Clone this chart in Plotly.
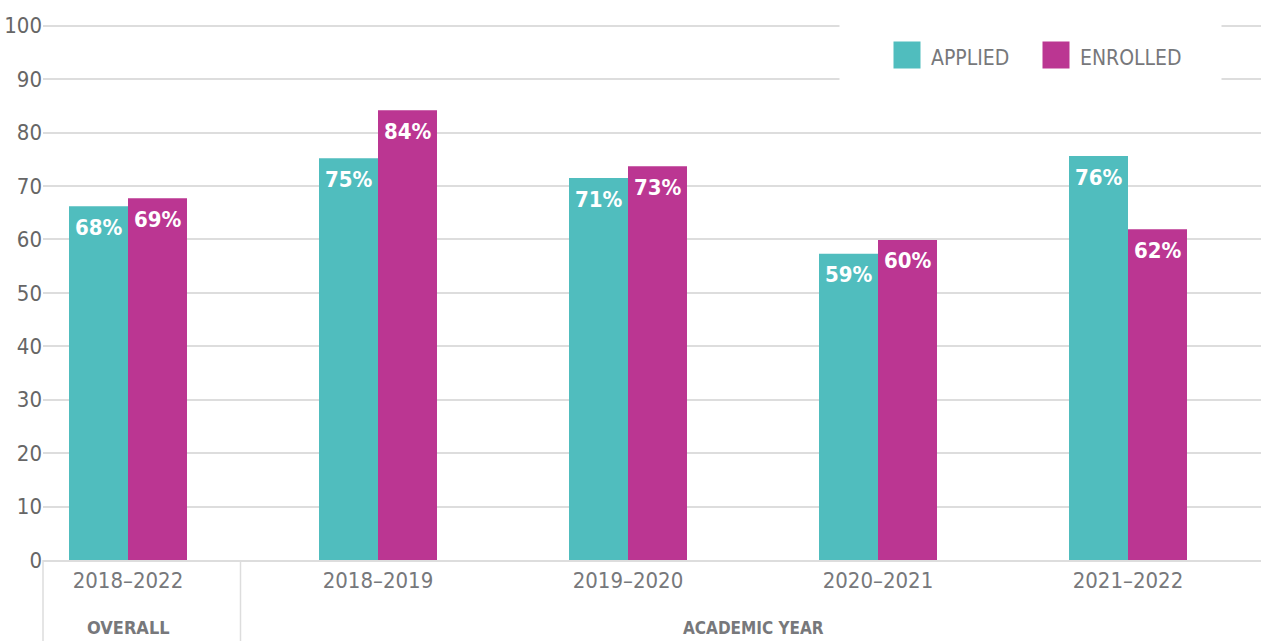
import plotly.graph_objects as go

categories = ["2018–2022", "2018–2019", "2019–2020", "2020–2021", "2021–2022"]
series_names = ["APPLIED", "ENROLLED"]
applied_values = [66.2, 75.2, 71.5, 57.3, 75.6]
enrolled_values = [67.7, 84.2, 73.7, 59.9, 61.9]
applied_labels = ["68%", "75%", "71%", "59%", "76%"]
enrolled_labels = ["69%", "84%", "73%", "60%", "62%"]
y_ticks = [0, 10, 20, 30, 40, 50, 60, 70, 80, 90, 100]
group_labels = ["OVERALL", "ACADEMIC YEAR"]

TEAL = "#50BDBE"
MAGENTA = "#BB3692"
GRAY = "#6D6E71"
LABEL_GRAY = "#77787B"
GRID = "#DDDDDD"
FONT = "Liberation Sans Narrow, DejaVu Sans Condensed, sans-serif"

BAR_PX = 59  # pixel width of one bar (for label offsets)

fig = go.Figure()
series = [
    (series_names[0], applied_values, applied_labels, TEAL),
    (series_names[1], enrolled_values, enrolled_labels, MAGENTA),
]
for i, (name, vals, labs, col) in enumerate(series):
    fig.add_trace(go.Bar(
        x=categories, y=vals, name=name, marker=dict(color=col, line=dict(width=0)),
        showlegend=False, hoverinfo="skip",
    ))
    for cat, v, lab in zip(categories, vals, labs):
        fig.add_annotation(
            x=cat, y=v, xref="x", yref="y", text=lab, showarrow=False,
            xanchor="center", yanchor="middle",
            xshift=(i - 0.5) * BAR_PX, yshift=-21,
            font=dict(family=FONT, size=22, color="white", weight="bold"),
        )

fig.update_layout(
    barmode="group", bargap=0.528, bargroupgap=0,
    width=1261, height=641,
    margin=dict(l=43, r=0, t=22, b=81, pad=0, autoexpand=False),
    paper_bgcolor="white", plot_bgcolor="white",
    font=dict(family=FONT, color=GRAY),
)

fig.update_xaxes(
    type="category", range=[-0.34, 4.532], showgrid=False,
    showline=True, linecolor=GRID, linewidth=2,
    ticks="", tickfont=dict(family=FONT, size=22, color=LABEL_GRAY),
    fixedrange=True, automargin=False,
)
fig.update_yaxes(
    range=[0, 100.7], tickvals=y_ticks, showgrid=True, gridcolor=GRID, gridwidth=1.5,
    zeroline=False, showline=False, ticks="",
    tickfont=dict(family=FONT, size=22, color="#666666"),
    ticklabelstandoff=0, fixedrange=True, automargin=False,
)

# white legend panel (hides gridlines behind the legend)
fig.add_annotation(xref="paper", yref="paper", x=0.8108, y=0.948, text=" ",
                   showarrow=False, xanchor="center", yanchor="middle",
                   width=381, height=72, borderpad=0, bgcolor="white")

# manual legend: swatches + names
legend_items = [(series_names[0], TEAL, 0.7094, 0.7274), (series_names[1], MAGENTA, 0.8317, 0.8498)]
for name, col, xs, xt in legend_items:
    fig.add_annotation(xref="paper", yref="paper", x=xs, y=0.9387, text=" ",
                       showarrow=False, xanchor="center", yanchor="middle",
                       width=26, height=26, borderpad=0, bgcolor=col)
    fig.add_annotation(xref="paper", yref="paper", x=xt, y=0.9331, text=name,
                       showarrow=False, xanchor="left", yanchor="middle",
                       font=dict(family=FONT, size=21, color=LABEL_GRAY))

# separators below the axis
for xv, ref in [(0, "paper"), (0.45, "x")]:
    fig.add_shape(type="line", xref=ref, yref="paper", x0=xv, x1=xv, y0=0, y1=-0.2,
                  line=dict(color=GRID, width=1.5))

# group labels
for lab, xv, size in zip(group_labels, [0, 2.5], [18, 17]):
    fig.add_annotation(xref="x", yref="paper", x=xv, y=-0.126, text=lab, showarrow=False,
                       xanchor="center", yanchor="middle",
                       font=dict(family=FONT, size=size, color=LABEL_GRAY, weight="bold"))

fig.write_html("out.html", config={"displayModeBar": False},
               post_script="document.body.style.margin='0';")
